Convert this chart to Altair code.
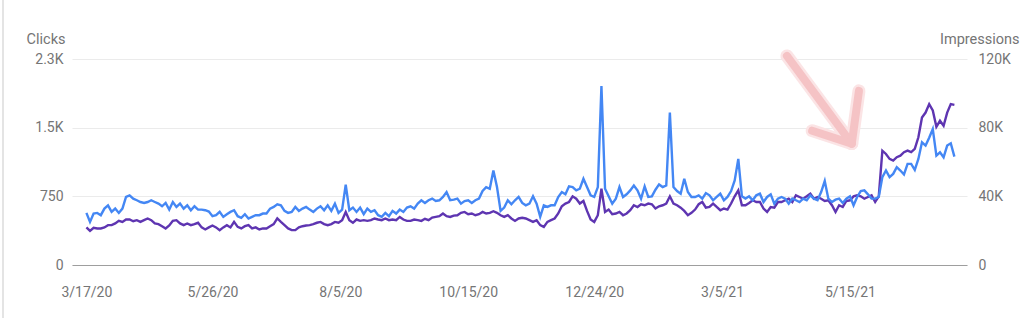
import altair as alt
import pandas as pd

# ---- data (one value every 2 days from 3/17/20) ----
clicks = [
    569, 471, 562, 569, 544, 616, 652, 580, 616, 569,
    616, 743, 761, 725, 707, 688, 678, 688, 707, 688,
    670, 641, 678, 605, 688, 634, 670, 616, 652, 598,
    641, 605, 605, 598, 583, 533, 544, 580, 526, 555,
    580, 598, 533, 515, 555, 507, 526, 544, 544, 562,
    562, 616, 634, 663, 652, 591, 569, 580, 634, 591,
    616, 634,
    605, 580, 616, 641, 598, 652, 591, 670, 569, 605,
    877, 598, 627, 580, 627, 555, 616, 580, 598, 544,
    526, 569, 533, 591, 562, 605, 580, 627, 641, 616,
    670, 707, 678, 707, 725, 699, 707, 743, 797, 707,
    714, 725, 670, 699, 707, 678, 707, 725, 808, 851,
    833, 1032, 851, 591, 627, 707, 663, 707, 743, 678,
    652, 670, 750, 670, 526, 652, 634, 652, 652, 743,
    797, 772, 859, 851, 815, 833, 942, 851, 761, 743,
    851, 1955, 833, 750, 670, 725, 851, 743, 772, 815,
    869, 815, 725, 859, 743, 750, 822, 880, 851, 869,
    1666, 851, 808, 779, 942, 797, 743, 743, 761, 725,
    786, 761, 707, 743, 779, 707, 743, 808, 924, 1159,
    750, 725, 750, 707, 761, 779, 688, 743, 772, 670,
    725, 743, 725, 670, 725, 707, 688, 725, 707, 761,
    725, 707, 797, 917, 725, 688, 714, 725, 678, 725,
    750, 652, 743, 808, 815, 772, 725, 725, 743, 960,
    1032, 960, 995, 1069, 1032, 989, 1105, 1105, 1040, 1159,
    1340, 1304, 1390, 1485, 1195, 1231, 1177, 1304, 1329, 1184,
]

impressions = [
    21900, 19900, 21700, 21300, 21300, 21900, 23200, 23200, 24200, 25700,
    25100, 26500, 26500, 25500, 26100, 25100, 26100, 27100, 26100, 24200,
    23800, 22600, 21300, 23000, 25700, 26100, 24200, 23200, 24200, 23200,
    23800, 24600, 21900, 20700, 21900, 23000, 21900, 20300, 21900, 23200,
    21900, 25100, 22200, 21300, 22600, 23200, 21300, 21900, 20700, 21300,
    21300, 22600, 23800, 27100, 25100, 23200, 21300, 20300, 20300, 21900,
    22600, 23000,
    23200, 23800, 24600, 25100, 23800, 23200, 23800, 25100, 24600, 26100,
    30900, 26100, 24600, 26500, 25700, 26100, 25700, 26100, 27100, 26500,
    26100, 27100, 26100, 26500, 26100, 28000, 26500, 25700, 25700, 26500,
    26100, 25700, 26900, 26100, 27600, 28000, 28400, 30000, 28400, 28000,
    28800, 29000, 30400, 30900, 29600, 30000, 29000, 29600, 30900, 30000,
    30400, 31300, 30400, 29000, 28000, 29000, 27100, 25700, 27100, 27500,
    27100, 26100, 25100, 26100, 23200, 22200, 25100, 26100, 27100, 30000,
    34200, 35800, 36700, 40000, 38600, 35800, 37300, 31500, 26500, 25100,
    29000, 44400, 30900, 32300, 29600, 30000, 30900, 29000, 30000, 31900,
    34800, 33800, 35400, 34800, 35800, 35400, 32900, 34200, 34800, 35800,
    40000, 35800, 34800, 33400, 31500, 29000, 30400, 32300, 35400, 36700,
    33400, 33800, 35800, 33800, 31900, 32900, 32300, 35800, 40000, 43500,
    34800, 34800, 36100, 37700, 36700, 36700, 32900, 30900, 33800, 33400,
    36700, 36700, 37700, 38600, 36700, 40600, 39600, 38600, 40000, 41500,
    38600, 39600, 38600, 37300, 37700, 34800, 30900, 34800, 33800, 37300,
    37700, 40000, 40600, 40000, 38600, 39600, 40600, 36700, 40000, 66600,
    64700, 61800, 60800, 62800, 63700, 65700, 66600, 65700, 67600, 74400,
    85900, 88800, 93700, 90000, 80500, 84000, 81100, 88800, 93700, 93300,
]

start_date = "2020-03-17"
x_domain = [(2020, 3, 9), (2021, 7, 19)]
x_ticks = [(2020, 3, 17), (2020, 5, 26), (2020, 8, 5), (2020, 10, 15),
           (2020, 12, 24), (2021, 3, 5), (2021, 5, 15)]

left_ticks = [0, 750, 1500, 2250]
left_labels = ["0", "750", "1.5K", "2.3K"]
right_ticks = [0, 40000, 80000, 120000]
right_labels = ["0", "40K", "80K", "120K"]

# hand-drawn arrow annotation (in clicks / date units)
arrow_stroke = [0, 0, 1, 1, 2, 2]
arrow_date = ["2021-04-10T00:00", "2021-05-16T00:00",
              "2021-05-20T00:00", "2021-05-16T00:00",
              "2021-04-24T00:00", "2021-05-16T00:00"]
arrow_clicks = [2283, 1326, 1902, 1326, 1467, 1326]

# ---- tables ----
dates = pd.date_range(start_date, periods=len(clicks), freq="2D").strftime("%Y-%m-%dT00:00")
df = pd.DataFrame({"date": dates, "clicks": clicks, "impressions": impressions})
arrow_df = pd.DataFrame({"stroke": arrow_stroke, "date": arrow_date, "clicks": arrow_clicks})


def dt(t):
    return alt.DateTime(year=t[0], month=t[1], date=t[2])


def label_expr(vals, labs):
    expr = "''"
    for v, l in zip(vals, labs):
        expr = f"datum.value == {v} ? '{l}' : ({expr})"
    return expr


GREY = "#757575"
FONT = "Roboto"

x_scale = alt.Scale(domain=[dt(x_domain[0]), dt(x_domain[1])])
x_enc = alt.X(
    "date:T",
    scale=x_scale,
    axis=alt.Axis(
        values=[dt(t) for t in x_ticks],
        format="%-m/%-d/%y",
        title=None,
        grid=False,
        ticks=False,
        tickSize=0,
        domain=True,
        domainColor="#9e9e9e",
        domainWidth=1,
        labelPadding=31,
        labelBaseline="alphabetic",
        labelColor=GREY,
        labelFont=FONT,
        labelFontSize=14,
        labelFlush=False,
    ),
)

arrow_halo = alt.Chart(arrow_df).mark_line(
    color="#fbe4e5", strokeWidth=13, strokeCap="round", strokeJoin="round"
).encode(
    x=alt.X("date:T", scale=x_scale, title=None),
    y=alt.Y("clicks:Q", scale=alt.Scale(domain=[0, 2250]), axis=None),
    detail="stroke:N",
)
arrow = alt.Chart(arrow_df).mark_line(
    color="#f5c3c5", strokeWidth=8, strokeCap="round", strokeJoin="round"
).encode(
    x=alt.X("date:T", scale=x_scale, title=None),
    y=alt.Y("clicks:Q", scale=alt.Scale(domain=[0, 2250]), axis=None),
    detail="stroke:N",
)

imp_line = alt.Chart(df).mark_line(color="#5e35b1", strokeWidth=2.4).encode(
    x=x_enc,
    y=alt.Y(
        "impressions:Q",
        scale=alt.Scale(domain=[0, 120000]),
        axis=alt.Axis(
            orient="right",
            values=right_ticks,
            labelExpr=label_expr(right_ticks, right_labels),
            grid=False,
            ticks=False,
            tickSize=0,
            domain=False,
            labelPadding=11,
            labelColor=GREY,
            labelFont=FONT,
            labelFontSize=14,
            title="Impressions",
            titleAngle=0,
            titleAlign="right",
            titleBaseline="alphabetic",
            titleX=52,
            titleY=-16,
            titleColor=GREY,
            titleFont=FONT,
            titleFontSize=14.5,
            titleFontWeight="normal",
        ),
    ),
)

clk_line = alt.Chart(df).mark_line(color="#4487f4", strokeWidth=2.4).encode(
    x=x_enc,
    y=alt.Y(
        "clicks:Q",
        scale=alt.Scale(domain=[0, 2250]),
        axis=alt.Axis(
            orient="left",
            values=left_ticks,
            labelExpr=label_expr(left_ticks, left_labels),
            grid=True,
            gridColor="#ebebeb",
            gridWidth=1,
            ticks=False,
            tickSize=0,
            domain=False,
            labelPadding=9,
            labelColor=GREY,
            labelFont=FONT,
            labelFontSize=14,
            title="Clicks",
            titleAngle=0,
            titleAlign="right",
            titleBaseline="alphabetic",
            titleX=-7,
            titleY=-16,
            titleColor=GREY,
            titleFont=FONT,
            titleFontSize=14.5,
            titleFontWeight="normal",
        ),
    ),
)

border = alt.Chart(df).mark_rule(color="#e4e4e4", strokeWidth=2).encode(
    x=alt.value(-69), y=alt.value(-59), y2=alt.value(259)
)

chart = (
    alt.layer(border, arrow_halo, arrow, imp_line, clk_line)
    .resolve_scale(y="independent")
    .properties(
        width=895,
        height=206,
        autosize=alt.AutoSizeParams(type="none"),
        padding={"left": 72, "top": 59, "right": 57, "bottom": 53},
        background="white",
    )
    .configure_view(stroke=None)
)

chart.save("out.html", embed_options={"renderer": "svg", "actions": False})
